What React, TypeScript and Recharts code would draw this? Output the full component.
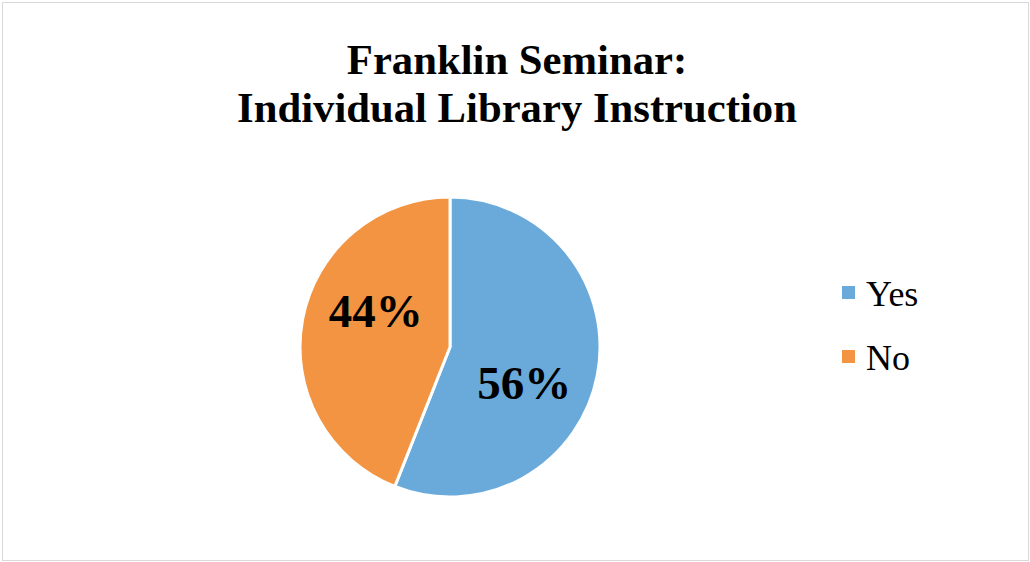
import React from "react";
import { PieChart, Pie, Cell } from "recharts";

const categories = ["Yes", "No"];
const values = [56, 44];
const colors = ["#6aaadb", "#f29441"];
const titleLines = ["Franklin Seminar:", "Individual Library Instruction"];

const data = categories.map((name, i) => ({ name, value: values[i] }));

const RAD = Math.PI / 180;
const FONT = '"Liberation Serif", "Times New Roman", serif';

const renderLabel = (props: any) => {
  const { cx, cy, midAngle, outerRadius, percent } = props;
  const a = (midAngle - 15) * RAD;
  const r = outerRadius * 0.55;
  const x = cx + r * Math.cos(a);
  const y = cy - r * Math.sin(a);
  return (
    <text
      x={x}
      y={y}
      textAnchor="middle"
      dominantBaseline="central"
      fontFamily={FONT}
      fontWeight="bold"
      fontSize={47}
      fill="#000"
    >
      {`${Math.round(percent * 100)}%`}
    </text>
  );
};

export default function App() {
  return (
    <div
      style={{
        position: "absolute",
        left: 0,
        top: 0,
        width: 1030,
        height: 562,
        background: "#fff",
      }}
    >
      <div
        style={{
          position: "absolute",
          left: 2,
          top: 2,
          width: 1025,
          height: 557,
          border: "1px solid #d9d9d9",
        }}
      />
      <div
        style={{
          position: "absolute",
          left: 0,
          top: 36,
          width: 1034,
          textAlign: "center",
          fontFamily: FONT,
          fontWeight: "bold",
          fontSize: 42.7,
          lineHeight: "48px",
          color: "#000",
        }}
      >
        {titleLines.map((t, i) => (
          <div key={i}>{t}</div>
        ))}
      </div>
      <div style={{ position: "absolute", left: 0, top: 0 }}>
        <PieChart
          width={1030}
          height={562}
          margin={{ top: 0, right: 0, bottom: 0, left: 0 }}
        >
          <Pie
            data={data}
            dataKey="value"
            nameKey="name"
            cx={450}
            cy={347}
            outerRadius={150}
            startAngle={90}
            endAngle={-270}
            stroke="#ffffff"
            strokeWidth={3}
            label={renderLabel}
            labelLine={false}
            isAnimationActive={false}
          >
            {data.map((d, i) => (
              <Cell key={d.name} fill={colors[i]} />
            ))}
          </Pie>
        </PieChart>
      </div>
      <div
        style={{
          position: "absolute",
          left: 842,
          top: 262,
          fontFamily: FONT,
          fontSize: 36,
          color: "#000",
        }}
      >
        {categories.map((c, i) => (
          <div
            key={c}
            style={{ display: "flex", alignItems: "center", height: 64 }}
          >
            <span
              style={{
                display: "inline-block",
                width: 13,
                height: 13,
                background: colors[i],
                marginRight: 11,
                marginTop: -4,
              }}
            />
            <span>{c}</span>
          </div>
        ))}
      </div>
    </div>
  );
}
